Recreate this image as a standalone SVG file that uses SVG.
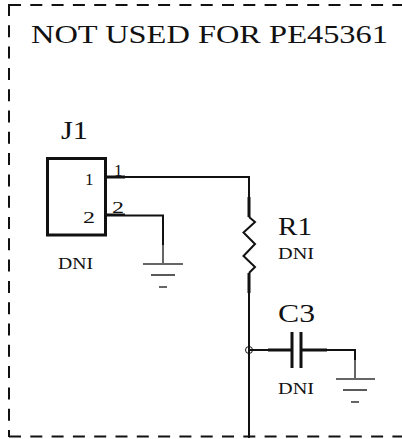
<svg xmlns="http://www.w3.org/2000/svg" width="402" height="439" viewBox="0 0 402 439">
<style>
text{font-family:"Liberation Serif",serif;fill:#111}
.w{fill:none;stroke:#111;stroke-width:2}
.t{fill:none;stroke:#111;stroke-width:3}
.g{fill:none;stroke:#666;stroke-width:2}
.d{fill:none;stroke:#222;stroke-width:1.500}
.b{font-size:26px}
.s{font-size:17px}
.f{fill:none;stroke:#111;stroke-width:2;stroke-dasharray:12 9.300}
</style>
<rect width="402" height="439" fill="#fff"/>
<g id="frame"><path class="f" d="M9 5H402"/><path class="f" d="M9 4V437"/><path class="f" d="M9 436.500H402"/></g>
<g id="connectors">
<path class="w" d="M125 177H249V197"/>
<path class="t" d="M107 177H125"/>
<path class="w" d="M107 215.500H163V245"/>
<path class="w" d="M107 214.500H125"/>
<path class="g" d="M163 245V264"/>
<path class="w" d="M249 292V438"/>
<path class="w" d="M249 350H268"/>
<path class="t" d="M268 350H292M301 350H327"/>
<path class="w" d="M327 350H355V360"/>
</g>
<g id="title"><text class="b" x="31" y="43" textLength="357" lengthAdjust="spacingAndGlyphs">NOT USED FOR PE45361</text></g>
<g id="J1">
<rect x="47.500" y="158.500" width="58" height="76.500" fill="#fff" stroke="#111" stroke-width="3"/>
<text class="b" x="61" y="139" textLength="27" lengthAdjust="spacingAndGlyphs">J1</text>
<text class="s" x="85" y="185">1</text>
<text class="s" x="83" y="223" textLength="12" lengthAdjust="spacingAndGlyphs">2</text>
<text class="s" x="114" y="176">1</text>
<text class="s" x="112" y="213" textLength="12" lengthAdjust="spacingAndGlyphs">2</text>
<text class="s" x="58" y="269" textLength="35" lengthAdjust="spacingAndGlyphs">DNI</text>
</g>
<g id="GND1">
<path class="g" d="M143 264H183M159 287H167"/>
<path class="d" d="M151 275H175"/>
</g>
<g id="R1">
<path class="t" d="M249 197V217"/>
<path class="w" d="M249 217L255 222L243.500 232.500L255 244L243.500 256L255 267L249 273"/>
<path class="t" d="M249 273V293"/>
<text class="b" x="278" y="235" textLength="34" lengthAdjust="spacingAndGlyphs">R1</text>
<text class="s" x="278" y="259" textLength="36" lengthAdjust="spacingAndGlyphs">DNI</text>
</g>
<g id="C3">
<path class="t" d="M292 332V368M301 332V368"/>
<circle cx="249" cy="350" r="3.500" fill="none" stroke="#111" stroke-width="1"/>
<text class="b" x="278" y="322" textLength="37" lengthAdjust="spacingAndGlyphs">C3</text>
<text class="s" x="278" y="394" textLength="36" lengthAdjust="spacingAndGlyphs">DNI</text>
</g>
<g id="GND2">
<path class="g" d="M355 360V379M336 379H375M351 402H359"/>
<path class="d" d="M343 390H367"/>
</g>
</svg>
